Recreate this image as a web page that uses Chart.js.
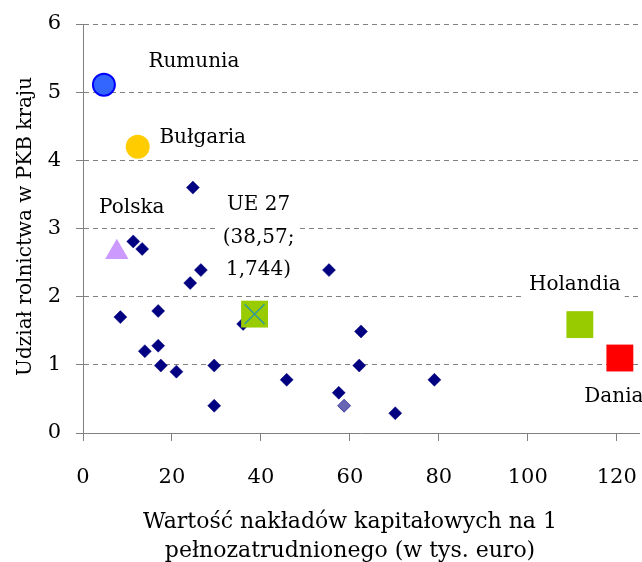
<!DOCTYPE html>
<html>
<head>
<meta charset="utf-8">
<script src="https://cdn.jsdelivr.net/npm/chart.js@4"></script>
<style>
  html, body { margin: 0; padding: 0; background: #fff; overflow: hidden; }
  #chart { display: block; }
</style>
</head>
<body>
<canvas id="chart" width="642" height="562"></canvas>
<script>
const xTicks = [0, 20, 40, 60, 80, 100, 120];
const yTicks = [0, 1, 2, 3, 4, 5, 6];

// other member states
const otherX = [11.3, 13.3, 8.4, 16.9, 24.1, 26.5, 13.9, 16.9, 17.5, 21.0, 29.5, 29.5, 36.0, 45.8, 55.3, 57.5, 62.5, 62.1, 70.2, 79.0, 24.7];
const otherY = [2.81, 2.70, 1.70, 1.79, 2.20, 2.39, 1.20, 1.28, 0.99, 0.90, 0.99, 0.40, 1.60, 0.78, 2.39, 0.59, 1.49, 0.99, 0.29, 0.78, 3.60];
const fadedX = [58.7];
const fadedY = [0.40];

// highlighted countries
const countries = ["Rumunia", "Bułgaria", "Polska", "UE 27", "Holandia", "Dania"];
const countryX = [4.7, 12.3, 7.6, 38.57, 111.7, 120.7];
const countryY = [5.11, 4.2, 2.65, 1.744, 1.59, 1.1];

const yTitle = "Udział rolnictwa w PKB kraju";
const xTitle = ["Wartość nakładów kapitałowych na 1", "pełnozatrudnionego (w tys. euro)"];

const FONT = "DejaVu Serif";
const RIGHT_GAP = 3;
const comma = (v) => String(v).replace(".", ",");

const markers = {
  "Rumunia": { pointStyle: "circle", radius: 11, bg: "#3366ff", border: "#0000ff", width: 2 },
  "Bułgaria": { pointStyle: "circle", radius: 12, bg: "#ffcc00", border: "#ffcc00", width: 0 },
  "Polska": { pointStyle: "triangle", radius: 13.5, bg: "#cc99ff", border: "#cc99ff", width: 0 },
  "UE 27": { pointStyle: "rect", radius: 19, bg: "#99cc00", border: "#99cc00", width: 0 },
  "Holandia": { pointStyle: "rect", radius: 19, bg: "#99cc00", border: "#99cc00", width: 0 },
  "Dania": { pointStyle: "rect", radius: 19, bg: "#ff0000", border: "#ff0000", width: 0 },
};

// text offsets (px) from each marker centre
const labelPos = {
  "Rumunia": { dx: 90, dy: -23 },
  "Bułgaria": { dx: 65, dy: -9 },
  "Polska": { dx: 15, dy: -45 },
  "UE 27": { dx: 4, dy: -109 },
  "Holandia": { dx: -5, dy: -40 },
  "Dania": { dx: -6, dy: 39 },
};

function labelLines(i) {
  const name = countries[i];
  if (name === "UE 27") {
    return [name, "(" + comma(countryX[i]) + ";", comma(countryY[i]) + ")"];
  }
  return [name];
}

// axis boxes keep their fixed size; no extra room for overhanging tick labels
function noOverhang(scale) {
  scale.paddingLeft = 0;
  scale.paddingRight = 0;
  scale.paddingTop = 0;
  scale.paddingBottom = 0;
}

const datasets = [];
// cross drawn over the EU square
const ueIdx = countries.indexOf("UE 27");
datasets.push({
  label: "UE 27 x",
  data: [{ x: countryX[ueIdx], y: countryY[ueIdx] }],
  pointStyle: "crossRot",
  pointRadius: 14,
  borderColor: "#339999",
  pointBorderWidth: 1.5,
  backgroundColor: "#339999",
});
countries.forEach((name, i) => {
  const m = markers[name];
  datasets.push({
    label: name,
    data: [{ x: countryX[i], y: countryY[i] }],
    pointStyle: m.pointStyle,
    pointRadius: m.radius,
    backgroundColor: m.bg,
    borderColor: m.border,
    pointBorderWidth: m.width,
  });
});
datasets.push({
  label: "faded",
  data: fadedX.map((x, i) => ({ x, y: fadedY[i] })),
  pointStyle: "rectRot",
  pointRadius: 6.5,
  backgroundColor: "rgba(0,0,128,0.6)",
  borderColor: "rgba(0,0,128,0.6)",
  pointBorderWidth: 1,
});
datasets.push({
  label: "others",
  data: otherX.map((x, i) => ({ x, y: otherY[i] })),
  pointStyle: "rectRot",
  pointRadius: 6.5,
  backgroundColor: "#000080",
  borderColor: "#000080",
  pointBorderWidth: 0.5,
});

// stretch the plot area to the right edge of the canvas
const fullWidth = {
  id: "fullWidth",
  afterLayout(chart) {
    const area = chart.chartArea;
    const xs = chart.scales.x;
    area.right = chart.width - RIGHT_GAP;
    area.width = area.right - area.left;
    xs.right = area.right;
    xs.width = area.right - xs.left;
    xs.configure();
  },
};

const annotations = {
  id: "annotations",
  afterDatasetsDraw(chart) {
    const ctx = chart.ctx;
    ctx.save();
    ctx.font = "20px '" + FONT + "'";
    ctx.textAlign = "center";
    ctx.textBaseline = "middle";
    countries.forEach((name, i) => {
      const dsIndex = datasets.findIndex((d) => d.label === name);
      const pt = chart.getDatasetMeta(dsIndex).data[0];
      const pos = labelPos[name];
      labelLines(i).forEach((line, k) => {
        const x = pt.x + pos.dx;
        const y = pt.y + pos.dy + k * 32.5;
        const w = ctx.measureText(line).width;
        ctx.fillStyle = "#fff";
        ctx.fillRect(x - w / 2 - 4, y - 14, w + 8, 28);
        ctx.fillStyle = "#000";
        ctx.fillText(line, x, y);
      });
    });
    ctx.restore();
  },
  afterDraw(chart) {
    const ctx = chart.ctx;
    const area = chart.chartArea;
    ctx.save();
    ctx.font = "20px '" + FONT + "'";
    ctx.fillStyle = "#000";
    ctx.textAlign = "center";
    ctx.textBaseline = "middle";
    ctx.translate(26, (area.top + area.bottom) / 2 - 2);
    ctx.rotate(-Math.PI / 2);
    ctx.fillText(yTitle, 0, 0);
    ctx.restore();

    ctx.save();
    ctx.font = "22px '" + FONT + "'";
    ctx.fillStyle = "#000";
    ctx.textAlign = "center";
    ctx.textBaseline = "middle";
    xTitle.forEach((line, k) => {
      ctx.fillText(line, area.left + 267, area.bottom + 89 + k * 29);
    });
    ctx.restore();
  },
};

new Chart(document.getElementById("chart"), {
  type: "scatter",
  data: { datasets },
  options: {
    responsive: false,
    animation: false,
    layout: { padding: { top: 24, right: RIGHT_GAP, left: 0, bottom: 0 } },
    plugins: { legend: { display: false }, tooltip: { enabled: false } },
    scales: {
      x: {
        type: "linear",
        min: 0,
        max: 125,
        afterBuildTicks: (scale) => { scale.ticks = xTicks.map((v) => ({ value: v })); },
        afterFit: (scale) => {
          scale.height = 129;
          noOverhang(scale);
        },
        ticks: { color: "#000", font: { family: FONT, size: 21 }, padding: 24, maxRotation: 0 },
        grid: { drawOnChartArea: false, drawTicks: true, tickLength: 8, color: "#808080", tickColor: "#808080" },
        border: { color: "#808080", width: 1 },
      },
      y: {
        type: "linear",
        min: 0,
        max: 6,
        afterBuildTicks: (scale) => { scale.ticks = yTicks.map((v) => ({ value: v })); },
        afterFit: (scale) => {
          scale.width = 83;
          noOverhang(scale);
        },
        ticks: { color: "#000", font: { family: FONT, size: 21 }, padding: 15 },
        grid: { color: "#808080", tickLength: 7, tickColor: "#808080", tickBorderDash: [] },
        border: { color: "#808080", width: 1, dash: [5, 4] },
      },
    },
  },
  plugins: [fullWidth, annotations],
});
</script>
</body>
</html>
